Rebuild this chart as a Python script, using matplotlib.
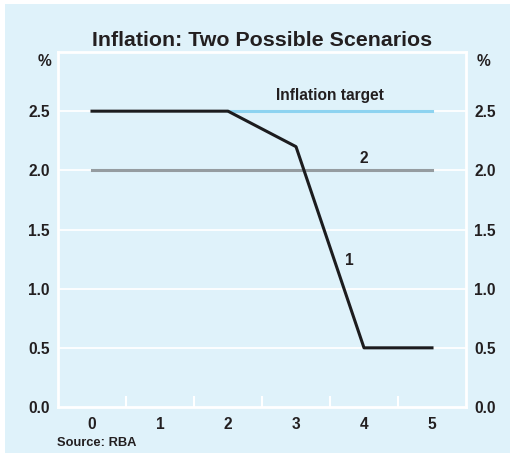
import matplotlib.pyplot as plt
import numpy as np

# Data
years = [0, 1, 2, 3, 4, 5]
scenario1 = [2.5, 2.5, 2.5, 2.2, 0.5, 0.5]
scenario2 = [2.0, 2.0, 2.0, 2.0, 2.0, 2.0]
target_x = [2, 5]
target_y = [2.5, 2.5]
y_ticks = [0.0, 0.5, 1.0, 1.5, 2.0, 2.5]

bg = "#dff2fa"
txt = "#231f20"
fs = 11.2
plt.rcParams["font.family"] = ["Liberation Sans", "DejaVu Sans"]
plt.rcParams["font.weight"] = "bold"

fig = plt.figure(figsize=(5.11, 4.55), dpi=100)
fig.patch.set_facecolor("white")
# light blue panel behind everything
fig.patches.append(plt.Rectangle((5 / 511, 0.004), 505 / 511, 1 - 4 / 455 - 0.004,
                                 transform=fig.transFigure, facecolor=bg,
                                 edgecolor="none", zorder=-1))

ax = fig.add_axes([58 / 511, 1 - 407 / 455, 408 / 511, 355 / 455])
ax.set_facecolor(bg)

ax.plot(target_x, target_y, color="#8dd3f0", lw=2.2, zorder=2)
ax.plot(years, scenario2, color="#959ca0", lw=2.2, zorder=2)
ax.plot(years, scenario1, color="#1c1c1e", lw=2.2, zorder=3)

ax.set_xlim(-0.5, 5.5)
ax.set_ylim(0, 3.0)

# white grid and frame
for y in y_ticks[1:]:
    ax.axhline(y, color="white", lw=1.3, zorder=1)
for s in ax.spines.values():
    s.set_color("white")
    s.set_linewidth(2)

ax.set_yticks(y_ticks)
ax.set_yticklabels([f"{v:.1f}" for v in y_ticks])
ax.set_xticks(years)
ax.set_xticks(np.arange(0.5, 5, 1), minor=True)
ax.tick_params(axis="x", which="major", length=0, pad=7, labelsize=fs, labelcolor=txt)
ax.tick_params(axis="x", which="minor", direction="in", length=8, width=1.5,
               color="white")
ax.tick_params(axis="y", which="both", length=0, pad=6, labelsize=fs,
               labelcolor=txt, labelright=True, labelleft=True)

fig.text(262 / 511, 1 - 40 / 455, "Inflation: Two Possible Scenarios",
         ha="center", va="center", fontsize=15.4, fontweight="bold", color=txt)
fig.text(45 / 511, 1 - 62 / 455, "%", ha="center", va="center",
         fontsize=fs, fontweight="bold", color=txt)
fig.text(483 / 511, 1 - 62 / 455, "%", ha="center", va="center",
         fontsize=fs, fontweight="bold", color=txt)
fig.text(57 / 511, 1 - 443 / 455, "Source: RBA", ha="left", va="center",
         fontsize=9.3, fontweight="bold", color=txt)

ax.text(3.5, 2.63, "Inflation target", ha="center", va="center",
        fontsize=fs, fontweight="bold", color=txt)
ax.text(4.0, 2.10, "2", ha="center", va="center",
        fontsize=fs, fontweight="bold", color=txt)
ax.text(3.78, 1.24, "1", ha="center", va="center",
        fontsize=fs, fontweight="bold", color=txt)

fig.savefig("out.png", dpi=100, facecolor=fig.get_facecolor())
